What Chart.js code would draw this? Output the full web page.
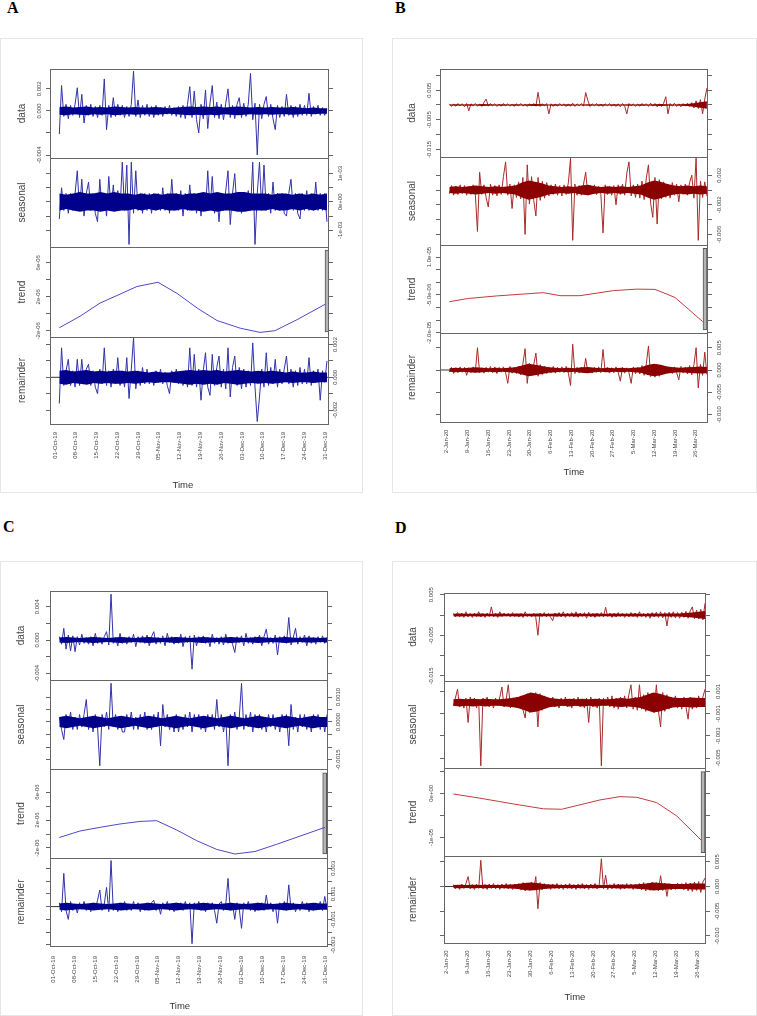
<!DOCTYPE html>
<html lang="en">
<head>
<meta charset="UTF-8">
<script src="https://cdn.jsdelivr.net/npm/chart.js@4.4.0/dist/chart.umd.min.js"></script>
<style>
  body { margin: 0; width: 757px; height: 1016px; position: relative; overflow: hidden; background: #fff; }
  .frame { position: absolute; border: 1px solid #e6e6e6; box-sizing: border-box; }
  .letter { position: absolute; font: bold 16px "Liberation Serif", "Times New Roman", serif; line-height: 16px; color: #000; }
  canvas { position: absolute; }
</style>
<title>STL decomposition</title>
</head>
<body>
<div class="frame" style="left:0;top:38px;width:363px;height:455px"></div>
<div class="frame" style="left:392px;top:38px;width:365px;height:455px"></div>
<div class="frame" style="left:0;top:561px;width:363px;height:455px"></div>
<div class="frame" style="left:392px;top:561px;width:365px;height:455px"></div>
<div class="letter" style="left:7px;top:0">A</div>
<div class="letter" style="left:395px;top:0">B</div>
<div class="letter" style="left:3px;top:519px">C</div>
<div class="letter" style="left:395px;top:520px">D</div>

<script>
// x axis labels (days from first label)
const octLabels = ['01-Oct-19','08-Oct-19','15-Oct-19','22-Oct-19','29-Oct-19','05-Nov-19','12-Nov-19','19-Nov-19','26-Nov-19','03-Dec-19','10-Dec-19','17-Dec-19','24-Dec-19','31-Dec-19'];
const octDays = [0,7,14,21,28,35,42,49,56,63,70,77,84,91];
const janLabels = ['2-Jan-20','9-Jan-20','16-Jan-20','23-Jan-20','30-Jan-20','6-Feb-20','13-Feb-20','20-Feb-20','27-Feb-20','5-Mar-20','12-Mar-20','19-Mar-20','26-Mar-20'];
const janDays = [0,7,14,21,28,35,42,49,56,63,70,77,84];

// first / last sample day of the noisy series
const aSpan = [1.45, 91.67];
const bSpan = [0.88, 87.8];
const cSpan = [2.01, 91.67];
const dSpan = [2.21, 86.6];

// ---- A (units 1e-4, trend 1e-6) ----
const aData = [
  -21, 23, -5, 6, -7, 5, -4, 6, 21, -6,
  15, -11, 5, -4, 6, -5, 4, -6, 5, -4,
  29, -17, 5, -6, 12, -5, 6, -4, 5, -6,
  4, -5, 6, 36, -5, 10, -6, 5, -4, 6,
  -5, 4, -6, 5, -4, 3, -5, 4, -3, 5,
  -4, 3, -5, 4, -6, 5, -7, 6, 22, -6,
  18, -8, -20, 6, -7, 19, -16, 7, 23, -6,
  8, -7, 6, -8, 7, 20, -6, 5, -7, 6,
  12, -6, 7, -5, 6, 34, -8, 7, -40, 6,
  -7, 6, 13, -5, 6, -7, -17, 5, -6, 4,
  -5, 15, -4, 5, -6, 4, -5, 6, -4, 5,
  -4, 16, -5, 4, -3, 5, -4, 3, -4, 2];
const aSeasonal = [
  -6, 5, -3, 3, -4, 3, -3, 3, 11, -3,
  8, -5, 3, 7, -3, 3, -4, -7, 8, -3,
  3, -5, 9, -3, 6, -3, 4, -3, 14, -3,
  13, -15, 14, -4, 11, -3, 3, -4, 3, -3,
  3, -4, 3, -3, 3, -3, 5, -3, 3, -4,
  8, -3, 3, -3, 4, -5, 3, -3, 6, -3,
  3, -4, 3, -5, 3, -3, 11, -3, 9, -4,
  3, -7, 3, -3, 4, 11, -8, 3, 10, -3,
  3, -4, 3, -3, 4, -3, 14, -15, 3, 14,
  -3, 13, -3, 3, -4, 7, -3, 3, -3, 3,
  -4, -5, 3, 8, -3, 3, -4, -6, 3, -3,
  4, -3, 3, -3, 7, -3, 3, -3, 3, -7];
const aTrendDay = [1.45, 8.43, 15.17, 21.9, 27.6, 34.7, 41.1, 47.9, 54.6, 62.4, 69.1, 74.1, 81.6, 91.0];
const aTrend = [-1.65, -0.3, 1.25, 2.3, 3.2, 3.7, 2.4, 0.67, -0.8, -1.7, -2.2, -2.0, -0.7, 1.1];
const aRemainder = [
  -16, 18, -5, 4, 11, -5, 4, -6, 11, -5,
  11, -4, 5, 8, -5, 4, -6, -10, 5, -4,
  18, -5, 4, -6, 5, -4, 12, -5, 4, -6,
  12, -13, 5, 24, -7, 4, -5, 6, -4, 5,
  -4, 3, -5, 4, -3, 5, -4, 3, -5, -10,
  4, -3, 5, -4, 3, -5, 4, -6, 18, -5,
  14, -6, 5, -14, 4, 15, -6, -11, 14, -5,
  6, 13, -6, 5, -7, 18, -12, 6, 13, -5,
  6, -7, 5, -6, 4, -5, 21, -6, -27, -12,
  5, -6, 15, -5, 6, -4, 11, -6, 5, -4,
  5, 13, -4, 5, -6, 4, -5, 6, -4, 5,
  -4, 12, -5, 4, -3, 5, -14, 4, -3, 10];
const aBar = [-2.15, 7.5], aBarDay = 91.67;
// half-width of the dense core of each noisy series (units 1e-4)
const aDataBand = [3.5, 4, 3, 3.5, 4, 3, 3.5, 3, 4, 3.5, 3, 3.5, 3, 3, 3.5, 3, 2.5, 3, 3.5, 4,
  3.5, 4, 3.5, 4, 3, 3.5, 4, 3.5, 3, 3.5, 3, 3.5, 3, 3, 3.5, 3, 2.5, 3, 2.5, 2.5];
const aSeasBand = [3, 2.5, 3, 3.5, 3, 3, 3.5, 3, 3.5, 3, 3, 2.5, 3, 2.5, 3, 2.5, 3, 3, 2.5, 3,
  3, 3.5, 3, 3.5, 3, 3, 3.5, 3.5, 3, 3, 3, 2.5, 3, 3, 2.5, 3, 2.5, 3, 2.5, 3];
const aRemBand = [4, 4.5, 3.5, 4, 4.5, 3.5, 4, 3.5, 4, 4, 3.5, 4, 3.5, 3, 3.5, 3, 3, 3.5, 4, 4.5,
  4, 4.5, 4, 4.5, 3.5, 4, 4.5, 4, 3.5, 4, 3.5, 4, 3.5, 3, 3.5, 3, 3, 3.5, 3, 3];

// ---- B ----
const bData = [
  4, -5, 3, -4, 5, -3, 4, -6, 5, -20,
  4, -3, 5, -4, 3, -5, 8, 20, -4, 5,
  -3, 4, -5, 3, -4, 5, -3, 4, -4, 3,
  -5, 4, -3, 5, -4, 3, -5, 4, -3, 5,
  -4, 43, -5, 4, -3, 5, -30, 4, -5, 3,
  -4, 5, -3, 4, -5, 3, -4, 6, -5, 4,
  -3, 5, -4, 42, 15, -5, 4, -3, 5, -4,
  3, -5, 4, -3, 5, -4, 3, -5, 4, -6,
  5, -4, -30, 5, -3, 4, -5, 3, -4, 5,
  -3, 4, -5, 6, -4, 5, -6, 4, -5, 6,
  28, -30, 5, -4, 6, -5, 4, -6, 5, -4,
  6, -5, 8, -10, 14, -12, 18, -30, 20, 57];
const bSeasonal = [
  -5, 6, -7, 5, -6, 7, -5, 6, -7, 5,
  -6, 7, -5, -56, 24, -6, 7, -10, -23, 8,
  -7, 6, -8, 7, -6, 18, 38, -7, 8, -25,
  7, -10, 11, -12, 17, -60, 34, -19, 18, -14,
  -35, 17, -14, 12, -11, 10, -8, 7, -6, 8,
  -7, 6, -8, 7, -6, 10, 43, -68, 8, -7,
  6, -7, 8, 24, -7, 6, -5, 7, -6, 5,
  -6, -58, 7, -6, 5, -7, 6, -20, 7, -6,
  8, -7, 23, 38, -8, 7, -10, 8, -11, 12,
  -13, 16, 34, -18, -37, 17, -46, 14, -12, 11,
  -10, 8, -11, 10, -7, 8, -16, 7, -6, 8,
  -7, 10, 20, -11, 43, -68, 12, -10, 11, -8];
const bTrendDay = [0.88, 7.29, 16.87, 32.59, 38.23, 44.97, 56.21, 64.1, 70.28, 77.02, 86.37];
const bTrend = [-7.7, -6.4, -5.4, -4.1, -5.3, -5.3, -3.3, -2.7, -2.8, -6.0, -15.6];
const bRemainder = [
  -5, 6, -8, 5, -6, 7, -5, 6, -12, 5,
  -6, 7, -5, 50, -6, 5, -7, 6, -5, 8,
  -6, 7, -8, 6, -5, 7, -6, -30, 8, -7,
  6, -8, 9, -11, 14, 48, -30, 15, -13, 12,
  38, -14, 12, -10, 9, -8, 7, -6, 8, -7,
  6, -5, 7, -6, 8, -7, -35, 58, -8, 6,
  -7, 6, -5, 26, -6, 5, -7, 6, -5, 7,
  -6, 46, -5, 6, -7, 5, -6, 7, -5, -25,
  6, -7, 5, -6, -30, 7, -8, 6, -9, 10,
  -12, 14, 54, -15, 13, -16, 12, -14, 11, -9,
  8, -7, 6, -8, 7, -6, -22, 8, -7, 6,
  -9, 10, -11, 12, 50, -40, 13, -12, 40, -10];
const bBar = [-18.9, 13.5], bBarDay = 87.15;
const bDataBand = [2, 2.5, 2, 2.5, 2, 3, 2.5, 2, 2.5, 2, 2.5, 2, 2.5, 3, 2.5, 2, 2.5, 2, 2.5, 2,
  2, 2.5, 2, 2.5, 2, 2.5, 2, 2.5, 2, 2.5, 2, 2.5, 3, 2.5, 2, 2.5, 3, 6, 9, 13];
const bSeasBand = [4, 5, 4, 5, 6, 5, 4, 5, 4, 5, 6, 10, 13, 11, 9, 6, 5, 4, 5, 4,
  6, 7, 5, 4, 5, 4, 5, 4, 5, 6, 10, 13, 11, 8, 6, 5, 6, 5, 6, 5];
const bRemBand = [4, 5, 4, 5, 6, 5, 4, 5, 4, 5, 6, 10, 14, 12, 9, 6, 5, 4, 5, 4,
  6, 7, 5, 4, 5, 4, 5, 4, 5, 6, 11, 14, 12, 8, 6, 5, 6, 7, 8, 7];

// ---- C ----
const cData = [
  4, -5, 14, -11, 6, -13, 5, -14, 4, -6,
  7, -4, 3, -5, 4, -7, 8, -4, 3, -5,
  4, 10, -6, 55, -4, 3, -7, 8, -4, 3,
  -5, 4, -3, 7, -8, 4, -3, 5, -4, 6,
  -7, 4, 10, -5, 3, -4, 5, -7, 8, -3,
  4, -5, 3, -4, 7, -8, 4, -3, 5, -35,
  6, -7, 4, -3, 5, -4, 3, -8, 7, -4,
  3, -5, 4, -6, 7, -4, 3, -5, -15, 4,
  -3, 5, -7, 8, -4, 3, -5, 4, -3, 6,
  -7, 4, 13, -5, 3, -4, 6, -18, 4, -3,
  5, -4, 27, -6, 3, 14, -5, 4, -3, 6,
  -7, 5, -4, 3, -5, 4, -3, 5, -4, 3];
const cSeasonal = [
  2, -3, -7, 3, -2, 4, -3, 2, -3, 3,
  -2, 3, 9, -3, 2, -4, 3, -2, -17.5, 3,
  -2, 4, -3, 15.5, -2, 3, -3, 2, -4, -4,
  3, -2, 4, -3, 2, -3, 3, -2, 4, -3,
  2, -3, 3, -2, 4, -9.5, 7, -2, 3, -3,
  2, -4, 3, -4, 2, -3, 3, -2, 4, -4,
  3, -2, 3, -3, 2, -4, 3, -2, 3, -3,
  9, -2, 3, -4, 2, -17.5, 3, -2, 4, -3,
  2, 15.5, -3, 3, -2, 4, -4, 3, -2, 3,
  -3, 2, -4, 3, -2, 3, -3, 2, -4, 3,
  -2, 3, -9.5, 7, -3, 2, -4, 3, -2, 3,
  -3, 2, -4, 3, -2, 3, -3, 2, -4, 3];
const cTrendDay = [2.01, 8.94, 15.64, 22.34, 29.04, 34.63, 41.33, 48.02, 54.72, 60.85, 67.55, 74.82, 82.62, 90.99];
const cTrend = [-0.5, 0.43, 0.95, 1.43, 1.8, 1.9, 0.57, -0.95, -2.2, -2.86, -2.5, -1.47, -0.3, 0.95];
const cRemainder = [
  3, -4, 26, -3, -10, 4, -3, 2, -5, 3,
  -2, 4, -3, 2, -4, 3, -2, 5, 13, -3,
  2, 15, -4, 36, -3, 2, -4, 3, -2, 4,
  -3, 2, -3, 4, -2, 3, -4, 2, -3, 3,
  -2, 3, 5, -3, 2, -6, 3, -2, 4, -3,
  2, -4, 3, -2, 3, -3, 4, -2, 3, -29,
  3, -2, 4, -3, 2, -4, 3, -2, 3, -3,
  -13, 2, 4, -3, 2, 22, -3, 2, -10, 3,
  -2, -17, 3, -2, 4, -3, 2, -4, 3, -2,
  3, -3, 9, -2, 3, -4, 2, -13, 3, -2,
  4, -3, 17, -2, 3, -4, 2, -3, 4, -2,
  3, -4, 2, -3, 3, -2, 4, -3, 8, -2];
const cBar = [-2.86, 8.76], cBarDay = 90.9;
const cDataBand = [3, 3.5, 3, 2.5, 3, 3.5, 3, 2.5, 3, 3.5, 3, 2.5, 3, 3.5, 3, 2.5, 3, 3.5, 3, 2.5,
  3, 3.5, 3, 2.5, 3, 3.5, 3, 2.5, 3, 3.5, 3, 2.5, 3, 3.5, 3, 2.5, 3, 3, 2.5, 3];
const cSeasBand = [2, 2.5, 2, 1.5, 2, 2.5, 2, 1.5, 2, 2.5, 2, 1.5, 2, 2.5, 2, 1.5, 2, 2.5, 2, 1.5,
  2, 2.5, 2, 1.5, 2, 2.5, 2, 1.5, 2, 2.5, 2, 1.5, 2, 2.5, 2, 1.5, 2, 2.5, 2, 2];
const cRemBand = [2.5, 3, 2.5, 2, 2.5, 3, 2.5, 2, 2.5, 3, 2.5, 2, 2.5, 3, 2.5, 2, 2.5, 3, 2.5, 2,
  2.5, 3, 2.5, 2, 2.5, 3, 2.5, 2, 2.5, 3, 2.5, 2, 2.5, 3, 2.5, 2, 2.5, 3, 2.5, 2.5];

// ---- D ----
const dData = [
  4, -5, 6, -4, 5, -6, 8, -5, 4, -6,
  5, -4, 8, -5, 4, -6, 5, -4, 20, -5,
  4, -6, 8, -4, 5, -3, 4, -5, 6, -4,
  3, -5, 4, -6, 8, -4, 3, -5, 4, -6,
  -50, 5, -4, 6, -5, 4, -6, -14, 5, -4,
  6, -5, 8, -6, 5, -4, 6, -5, 8, -6,
  5, -4, 6, -8, 7, -5, 4, -6, 5, -4,
  6, -5, 19, -4, 5, -6, 4, -5, 6, -4,
  5, -6, 4, -5, 6, -4, 5, -6, 8, -5,
  4, -6, 5, -8, 6, -5, 7, -6, 8, -7,
  6, -27, 7, -6, 8, -7, 6, -8, 7, -6,
  9, -8, 10, 20, -9, 12, -10, 14, -12, 29];
const dSeasonal = [
  -3, 4, 12, -4, 3, -5, 4, -18, 5, -3,
  4, -5, 3, -57, 4, -3, 5, -4, 3, -5,
  4, -3, 5, 14, -4, 3, 16, -5, 4, -3,
  5, -4, 6, -7, -14, 8, -9, 7, -8, 9,
  -22, 8, -7, 6, -5, 4, -3, 5, -4, 3,
  -5, 4, -3, 5, -4, 3, -5, 4, -3, 5,
  -4, 3, -5, 4, -18, 5, -4, 3, -5, 4,
  -57, 4, -3, 5, -4, 6, -5, 4, -6, 5,
  -4, 6, -5, 7, 16, -6, 5, -7, 16, -6,
  7, -8, 9, -7, 8, -9, 16, -8, -22, 9,
  -8, 7, -6, 5, -4, 6, -5, 4, -6, 5,
  -4, -15, 5, -6, 4, -5, 6, -4, 5, 12];
const dTrendDay = [2.21, 11.16, 22.33, 32.38, 38.55, 44.69, 51.39, 58.1, 63.7, 70.4, 77.1, 85.5];
const dTrend = [-0.16, -1.1, -2.4, -3.5, -3.6, -2.6, -1.5, -0.75, -0.9, -2.1, -5.1, -10.7];
const dRemainder = [
  4, -5, 3, -6, 5, -4, 6, 20, -5, 4,
  -6, 5, -4, 53, -5, 4, -6, 5, -4, 6,
  -5, 4, -6, 5, -4, 6, -5, 4, -6, 5,
  -4, 6, -7, 8, -9, 7, -8, 9, -7, 20,
  -45, 8, -7, 6, -5, 4, -6, 5, -4, 6,
  -5, 4, -6, 5, -4, 6, -5, 4, -6, 5,
  -4, 6, -5, 4, -6, 5, -4, 6, -5, 4,
  56, -5, 23, -6, 4, -5, 6, -4, 5, -6,
  4, -5, 6, -4, 5, -6, 4, -5, 6, -7,
  8, -9, 7, -8, 9, -7, 8, -9, 22, -8,
  7, -20, 6, -7, 5, -6, 7, -5, 6, -7,
  8, -9, 7, -10, 9, -8, 10, -12, 9, 17];
const dBar = [-13.4, 4.88], dBarDay = 85.92;
const dDataBand = [3, 3.5, 3, 3, 3.5, 3, 3, 3.5, 3, 3, 3.5, 3, 3, 3.5, 3, 3, 3.5, 3, 3, 3.5,
  3, 3, 3.5, 3, 3, 3.5, 3, 3, 3.5, 3, 3, 3.5, 3, 3.5, 4, 4, 5, 6, 8, 10];
const dSeasBand = [3, 3.5, 3, 3.5, 3, 3.5, 3, 3, 3.5, 4, 5, 7, 9, 8, 6, 4, 3.5, 3, 3.5, 3,
  3.5, 3, 3.5, 3, 3, 3.5, 4, 3.5, 4, 5, 7, 9, 8, 6, 4.5, 4, 4, 4.5, 4, 4];
const dRemBand = [3, 3.5, 3, 3.5, 3, 3.5, 3, 3, 3.5, 4, 5, 7, 8, 7, 5, 4, 3.5, 3, 3.5, 3,
  3.5, 3, 3.5, 3, 3, 3.5, 4, 3.5, 4, 5, 6, 8, 7, 6, 5, 5, 5, 6, 6, 6];

// y ticks and their labels
const aDataTicks = [-0.004, -0.002, 0, 0.002], aDataLabels = ['-0.004', '', '0.000', '0.002'];
const aSeasTicks = [-0.001, -0.0005, 0, 0.0005, 0.001], aSeasLabels = ['-1e-03', '', '0e+00', '', '1e-03'];
const aTrendTicks = [-2e-6, 0, 2e-6, 4e-6, 6e-6], aTrendLabels = ['-2e-06', '', '2e-06', '', '6e-06'];
const aRemTicks = [-0.002, -0.001, 0, 0.001, 0.002], aRemLabels = ['-0.002', '', '0.000', '', '0.002'];

const bDataTicks = [-0.015, -0.01, -0.005, 0, 0.005, 0.01], bDataLabels = ['-0.015', '', '-0.005', '', '0.005', ''];
const bSeasTicks = [-0.006, -0.004, -0.002, 0, 0.002], bSeasLabels = ['-0.006', '', '-0.002', '', '0.002'];
const bTrendTicks = [-2e-5, -1.5e-5, -1e-5, -5e-6, 0, 5e-6, 1e-5], bTrendLabels = ['-2.0e-05', '', '', '-5.0e-06', '', '', '1.0e-05'];
const bRemTicks = [-0.01, -0.005, 0, 0.005], bRemLabels = ['-0.010', '-0.005', '0.000', '0.005'];

const cDataTicks = [-0.004, -0.002, 0, 0.002, 0.004], cDataLabels = ['-0.004', '', '0.000', '', '0.004'];
const cSeasTicks = [-0.0015, -0.001, -0.0005, 0, 0.0005, 0.001], cSeasLabels = ['-0.0015', '', '', '0.0000', '', '0.0010'];
const cTrendTicks = [-2e-6, 0, 2e-6, 4e-6, 6e-6], cTrendLabels = ['-2e-06', '', '2e-06', '', '6e-06'];
const cRemTicks = [-0.003, -0.002, -0.001, 0, 0.001, 0.002, 0.003], cRemLabels = ['-0.003', '', '-0.001', '', '0.001', '', '0.003'];

const dDataTicks = [-0.015, -0.01, -0.005, 0, 0.005], dDataLabels = ['-0.015', '', '-0.005', '', '0.005'];
const dSeasTicks = [-0.005, -0.003, -0.001, 0.001], dSeasLabels = ['-0.005', '-0.003', '-0.001', '0.001'];
const dTrendTicks = [-1e-5, -5e-6, 0, 5e-6], dTrendLabels = ['-1e-05', '', '0e+00', ''];
const dRemTicks = [-0.01, -0.005, 0, 0.005], dRemLabels = ['-0.010', '-0.005', '0.000', '0.005'];

const FONT = "'Liberation Sans', Arial, sans-serif";
const BLUE = '#00008b', BLUE_LINE = '#3232aa', BLUE_TREND = '#4a4ac8';
const RED = '#8b0000', RED_LINE = '#a82a2a', RED_TREND = '#c23c3c';
const TM = 14, BM = 14, LM = 48, RM = 48, XH = 70, TICK = 4;

Chart.defaults.font.family = FONT;

const mctx = document.createElement('canvas').getContext('2d');
function textWidth(t, px) {
  mctx.font = px + 'px ' + FONT;
  return mctx.measureText(t).width;
}

// plot frame like R's box()
const boxPlugin = {
  id: 'box',
  afterDatasetsDraw(chart) {
    const {ctx, chartArea: a} = chart;
    ctx.save();
    ctx.strokeStyle = '#666';
    ctx.lineWidth = 1;
    ctx.strokeRect(a.left + 0.5, a.top + 0.5, a.right - a.left - 1, a.bottom - a.top);
    ctx.restore();
  }
};

const panels = [
  { left: 50, width: 279, tops: [69, 158, 247, 337], heights: [89, 89, 90, 87],
    xMin: -1.685, xMax: 92.35, span: aSpan, xTicks: octDays, xLabels: octLabels,
    color: BLUE, lineColor: BLUE_LINE, trendColor: BLUE_TREND, titleGap: 28, labelPad: 8, timePad: 3.3, timeShift: 7,
    plots: [
      {title: 'data', side: 'left', vals: aData, band: aDataBand, min: -0.00427, max: 0.0038, ticks: aDataTicks, labels: aDataLabels, gap: 11},
      {title: 'seasonal', side: 'right', vals: aSeasonal, band: aSeasBand, min: -0.00159, max: 0.00155, ticks: aSeasTicks, labels: aSeasLabels, gap: 11},
      {title: 'trend', side: 'left', trend: true, days: aTrendDay, vals: aTrend, bar: aBar, barDay: aBarDay, min: -2.74e-6, max: 7.85e-6, ticks: aTrendTicks, labels: aTrendLabels, gap: 12},
      {title: 'remainder', side: 'right', vals: aRemainder, band: aRemBand, zero: true, min: -0.00285, max: 0.00246, ticks: aRemTicks, labels: aRemLabels, gap: 6}
    ]},
  { left: 440, width: 268, tops: [69, 157, 245, 333], heights: [88, 88, 88, 89],
    xMin: -2.26, xMax: 88.16, span: bSpan, xTicks: janDays, xLabels: janLabels,
    color: RED, lineColor: RED_LINE, trendColor: RED_TREND, titleGap: 27.7, labelPad: 7.6, timePad: 14, timeShift: 0,
    plots: [
      {title: 'data', side: 'left', vals: bData, band: bDataBand, min: -0.01757, max: 0.01216, ticks: bDataTicks, labels: bDataLabels, gap: 10.7},
      {title: 'seasonal', side: 'right', vals: bSeasonal, band: bSeasBand, min: -0.00743, max: 0.00446, ticks: bSeasTicks, labels: bSeasLabels, gap: 11.6},
      {title: 'trend', side: 'left', trend: true, days: bTrendDay, vals: bTrend, bar: bBar, barDay: bBarDay, min: -20.1e-6, max: 14.8e-6, ticks: bTrendTicks, labels: bTrendLabels, gap: 10.7},
      {title: 'remainder', side: 'right', vals: bRemainder, band: bRemBand, zero: true, min: -0.01166, max: 0.0083, ticks: bRemTicks, labels: bRemLabels, gap: 11.6}
    ]},
  { left: 50, width: 278, tops: [591, 680, 769, 858], heights: [89, 89, 89, 88],
    xMin: -1.105, xMax: 92.0, span: cSpan, xTicks: octDays, xLabels: octLabels,
    color: BLUE, lineColor: BLUE_LINE, trendColor: BLUE_TREND, titleGap: 29, labelPad: 10, timePad: 3.6, timeShift: 9,
    plots: [
      {title: 'data', side: 'left', vals: cData, band: cDataBand, min: -0.0048, max: 0.00588, ticks: cDataTicks, labels: cDataLabels, gap: 12.3},
      {title: 'seasonal', side: 'right', vals: cSeasonal, band: cSeasBand, min: -0.00188, max: 0.00168, ticks: cSeasTicks, labels: cSeasLabels, gap: 10.6},
      {title: 'trend', side: 'left', trend: true, days: cTrendDay, vals: cTrend, bar: cBar, barDay: cBarDay, min: -3.43e-6, max: 9.29e-6, ticks: cTrendTicks, labels: cTrendLabels, gap: 12.3},
      {title: 'remainder', side: 'right', vals: cRemainder, band: cRemBand, zero: true, min: -0.00308, max: 0.0038, ticks: cRemTicks, labels: cRemLabels, gap: 5.6}
    ]},
  { left: 444, width: 262, tops: [593, 681, 768, 856], heights: [88, 87, 88, 87],
    xMin: -0.905, xMax: 86.93, span: dSpan, xTicks: janDays, xLabels: janLabels,
    color: RED, lineColor: RED_LINE, trendColor: RED_TREND, titleGap: 30.5, labelPad: 7.3, timePad: 10, timeShift: 0,
    plots: [
      {title: 'data', side: 'left', vals: dData, band: dDataBand, min: -0.01626, max: 0.00542, ticks: dDataTicks, labels: dDataLabels, gap: 12.6},
      {title: 'seasonal', side: 'right', vals: dSeasonal, band: dSeasBand, min: -0.0059, max: 0.00194, ticks: dSeasTicks, labels: dSeasLabels, gap: 12.6},
      {title: 'trend', side: 'left', trend: true, days: dTrendDay, vals: dTrend, bar: dBar, barDay: dBarDay, min: -14.15e-6, max: 5.71e-6, ticks: dTrendTicks, labels: dTrendLabels, gap: 12.6},
      {title: 'remainder', side: 'right', vals: dRemainder, band: dRemBand, zero: true, min: -0.01144, max: 0.00617, ticks: dRemTicks, labels: dRemLabels, gap: 11.6}
    ]}
];

// evenly spaced sample times over the panel's span
function sampleDays(span, n) {
  const step = (span[1] - span[0]) / (n - 1);
  return Array.from({length: n}, (_, i) => span[0] + i * step);
}

function makePlot(panel, k) {
  const p = panel.plots[k];
  const bottom = k === panel.plots.length - 1;
  const w = panel.width, h = panel.heights[k];

  const canvas = document.createElement('canvas');
  canvas.width = LM + w + RM;
  canvas.height = TM + h + (bottom ? XH : BM);
  canvas.style.left = (panel.left - LM) + 'px';
  canvas.style.top = (panel.tops[k] - TM) + 'px';
  document.body.appendChild(canvas);

  const widest = Math.max(...p.labels.map(t => textWidth(t, 6)));
  const pad = p.gap - TICK - widest / 2;

  const yAxis = (pos) => ({
    type: 'linear', position: pos, min: p.min, max: p.max,
    afterFit: s => { s.width = pos === 'left' ? LM : RM; },
    afterBuildTicks: s => { s.ticks = p.ticks.map(v => ({value: v})); },
    grid: {drawOnChartArea: false, drawTicks: true, tickLength: TICK, color: '#666'},
    border: {display: false},
    ticks: {
      autoSkip: false, minRotation: 90, maxRotation: 90, crossAlign: 'center', padding: pad,
      font: {size: 6}, color: '#444',
      callback: (v, i) => pos === p.side ? p.labels[i] : ''
    },
    title: {display: pos === 'left', text: p.title, color: '#444', font: {size: 10},
            padding: {top: LM - panel.titleGap - 6, bottom: 0}}
  });

  let xAxis = {type: 'linear', min: panel.xMin, max: panel.xMax, offset: false, display: false};
  if (bottom) {
    const spaces = Math.round(2 * panel.timeShift / textWidth(' ', 9.5));
    xAxis = {
      type: 'linear', min: panel.xMin, max: panel.xMax, offset: false,
      afterFit: s => { s.height = XH; },
      afterBuildTicks: s => { s.ticks = panel.xTicks.map(v => ({value: v})); },
      grid: {display: false, drawTicks: false},
      border: {display: false},
      ticks: {autoSkip: false, minRotation: 90, maxRotation: 90, padding: panel.labelPad,
              font: {size: 6}, color: '#444', callback: (v, i) => panel.xLabels[i]},
      title: {display: true, text: 'Time' + ' '.repeat(spaces), color: '#333', font: {size: 9.5},
              padding: {top: 0, bottom: panel.timePad}}
    };
  }

  const datasets = [];
  if (p.trend) {
    datasets.push({
      data: p.days.map((d, i) => ({x: d, y: p.vals[i] * 1e-6})),
      borderColor: panel.trendColor, borderWidth: 1, pointRadius: 0
    });
    datasets.push({
      type: 'bar', data: [{x: p.barDay, y: p.bar.map(v => v * 1e-6)}],
      backgroundColor: '#b4b4b4', borderColor: '#555', borderWidth: 1,
      borderSkipped: false, barThickness: 4
    });
  } else {
    // dense core of the series, filled between -band and +band (drawn above the spikes)
    const bx = sampleDays(panel.span, p.band.length);
    datasets.push({
      data: p.band.map((v, i) => ({x: bx[i], y: -v * 1e-4})),
      borderColor: 'rgba(0,0,0,0)', borderWidth: 0, pointRadius: 0, fill: false
    });
    datasets.push({
      data: p.band.map((v, i) => ({x: bx[i], y: v * 1e-4})),
      borderColor: 'rgba(0,0,0,0)', borderWidth: 0, pointRadius: 0,
      fill: '-1', backgroundColor: panel.color
    });
    const xs = sampleDays(panel.span, p.vals.length);
    datasets.push({
      data: p.vals.map((v, i) => ({x: xs[i], y: v * 1e-4})),
      borderColor: panel.lineColor, borderWidth: 1, pointRadius: 0, borderJoinStyle: 'bevel'
    });
    if (p.zero) {
      datasets.push({
        data: [{x: panel.xMin, y: 0}, {x: panel.xMax, y: 0}],
        borderColor: '#333', borderWidth: 1, pointRadius: 0
      });
    }
  }

  new Chart(canvas, {
    type: 'line',
    data: {datasets},
    options: {
      responsive: false, animation: false, devicePixelRatio: 1,
      layout: {padding: {top: TM, bottom: bottom ? 0 : BM, left: 0, right: 0}},
      plugins: {legend: {display: false}, tooltip: {enabled: false}},
      elements: {line: {tension: 0}},
      scales: {x: xAxis, y: yAxis('left'), y2: yAxis('right')}
    },
    plugins: [boxPlugin]
  });
}

panels.forEach(panel => panel.plots.forEach((p, k) => makePlot(panel, k)));
</script>
</body>
</html>
